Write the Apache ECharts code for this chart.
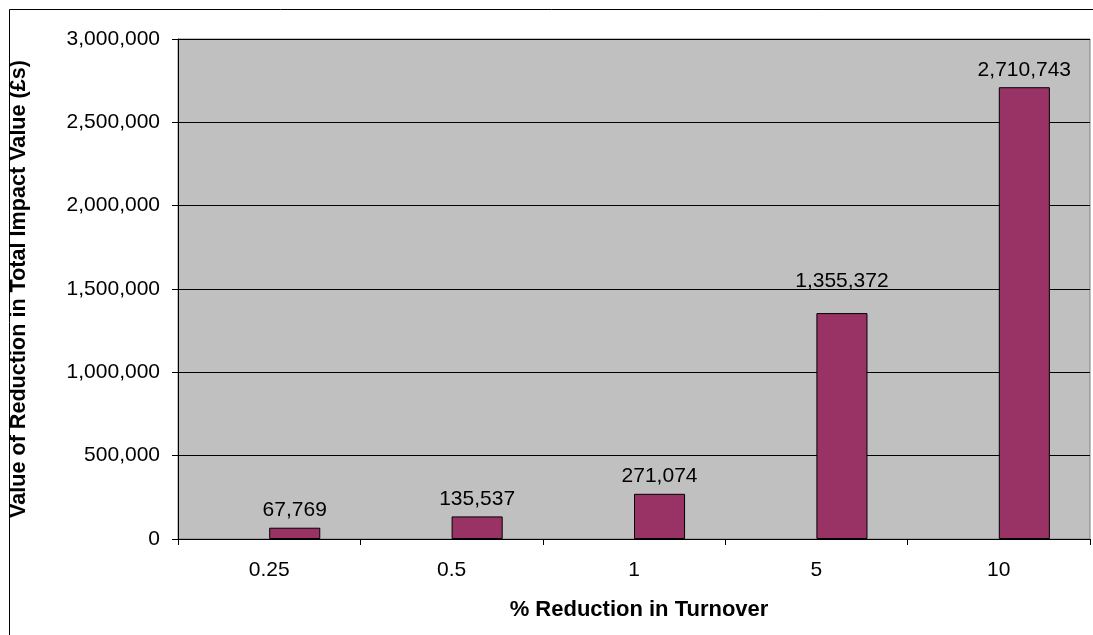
<!DOCTYPE html>
<html>
<head>
<meta charset="utf-8">
<title>Value of Reduction in Total Impact Value</title>
<script src="https://cdn.jsdelivr.net/npm/echarts@6/dist/echarts.min.js"></script>
<style>
  html, body { margin: 0; padding: 0; background: #fff; }
  #chart { width: 1093px; height: 635px; }
</style>
</head>
<body>
<div id="chart"></div>
<script>
// % reduction in turnover (categories) and the resulting reduction in total impact value (£)
const categories = ['0.25', '0.5', '1', '5', '10'];
const reductionValues = [67769, 135537, 271074, 1355372, 2710743];
const yTicks = { min: 0, max: 3000000, interval: 500000 };

const FONT = "'Liberation Sans', Arial, sans-serif";
const fmt = v => Number(v).toLocaleString('en-US');

// the 5% label sits a little higher above its bar than the others
const labelLift = { 3: 14 };

const barData = reductionValues.map((v, i) => (
  labelLift[i] ? { value: v, label: { offset: [0, -labelLift[i]] } } : v
));

const chart = echarts.init(document.getElementById('chart'), null, { renderer: 'canvas' });

chart.setOption({
  backgroundColor: '#ffffff',
  animation: false,
  textStyle: { fontFamily: FONT },
  graphic: [{
    type: 'rect',
    shape: { x: 9.5, y: 9.5, width: 1200, height: 800 },
    style: { fill: 'none', stroke: '#000', lineWidth: 1 },
    silent: true, z: -1
  }],
  grid: {
    left: 178, right: 3, top: 39, bottom: 96,
    show: true,
    backgroundColor: '#C0C0C0',
    borderColor: '#808080',
    borderWidth: 1
  },
  xAxis: {
    type: 'category',
    data: categories,
    name: '% Reduction in Turnover',
    nameLocation: 'middle',
    nameGap: 60,
    nameTextStyle: { fontFamily: FONT, fontSize: 22, fontWeight: 'bold', color: '#000', padding: [0, 0, 0, 10] },
    axisLine: { show: true, lineStyle: { color: '#000', width: 1 } },
    axisTick: { show: true, length: 6, lineStyle: { color: '#000' } },
    axisLabel: { fontFamily: FONT, fontSize: 21, color: '#000', margin: 21 },
    splitLine: { show: false }
  },
  yAxis: {
    type: 'value',
    min: yTicks.min, max: yTicks.max, interval: yTicks.interval,
    name: 'Value of Reduction in Total Impact Value (£s)',
    nameLocation: 'middle',
    nameGap: 148,
    nameTextStyle: { fontFamily: FONT, fontSize: 21.6, fontWeight: 'bold', color: '#000' },
    axisLine: { show: true, lineStyle: { color: '#000', width: 1 } },
    axisTick: { show: true, length: 6, lineStyle: { color: '#000' } },
    axisLabel: { fontFamily: FONT, fontSize: 21, color: '#000', margin: 18, formatter: fmt },
    splitLine: { show: true, lineStyle: { color: '#000', width: 1 } }
  },
  series: [
    // empty leading series keeps the drawn bar in the right half of each category slot
    { type: 'bar', name: '', data: [], barGap: '0%', barCategoryGap: '44%' },
    {
      type: 'bar',
      name: 'Reduction in total impact value',
      data: barData,
      barGap: '0%',
      barCategoryGap: '44%',
      itemStyle: { color: '#993366', borderColor: '#000', borderWidth: 1 },
      label: {
        show: true,
        position: 'top',
        distance: 7,
        fontFamily: FONT,
        fontSize: 21,
        color: '#000',
        formatter: p => fmt(p.value)
      }
    }
  ]
});
</script>
</body>
</html>
